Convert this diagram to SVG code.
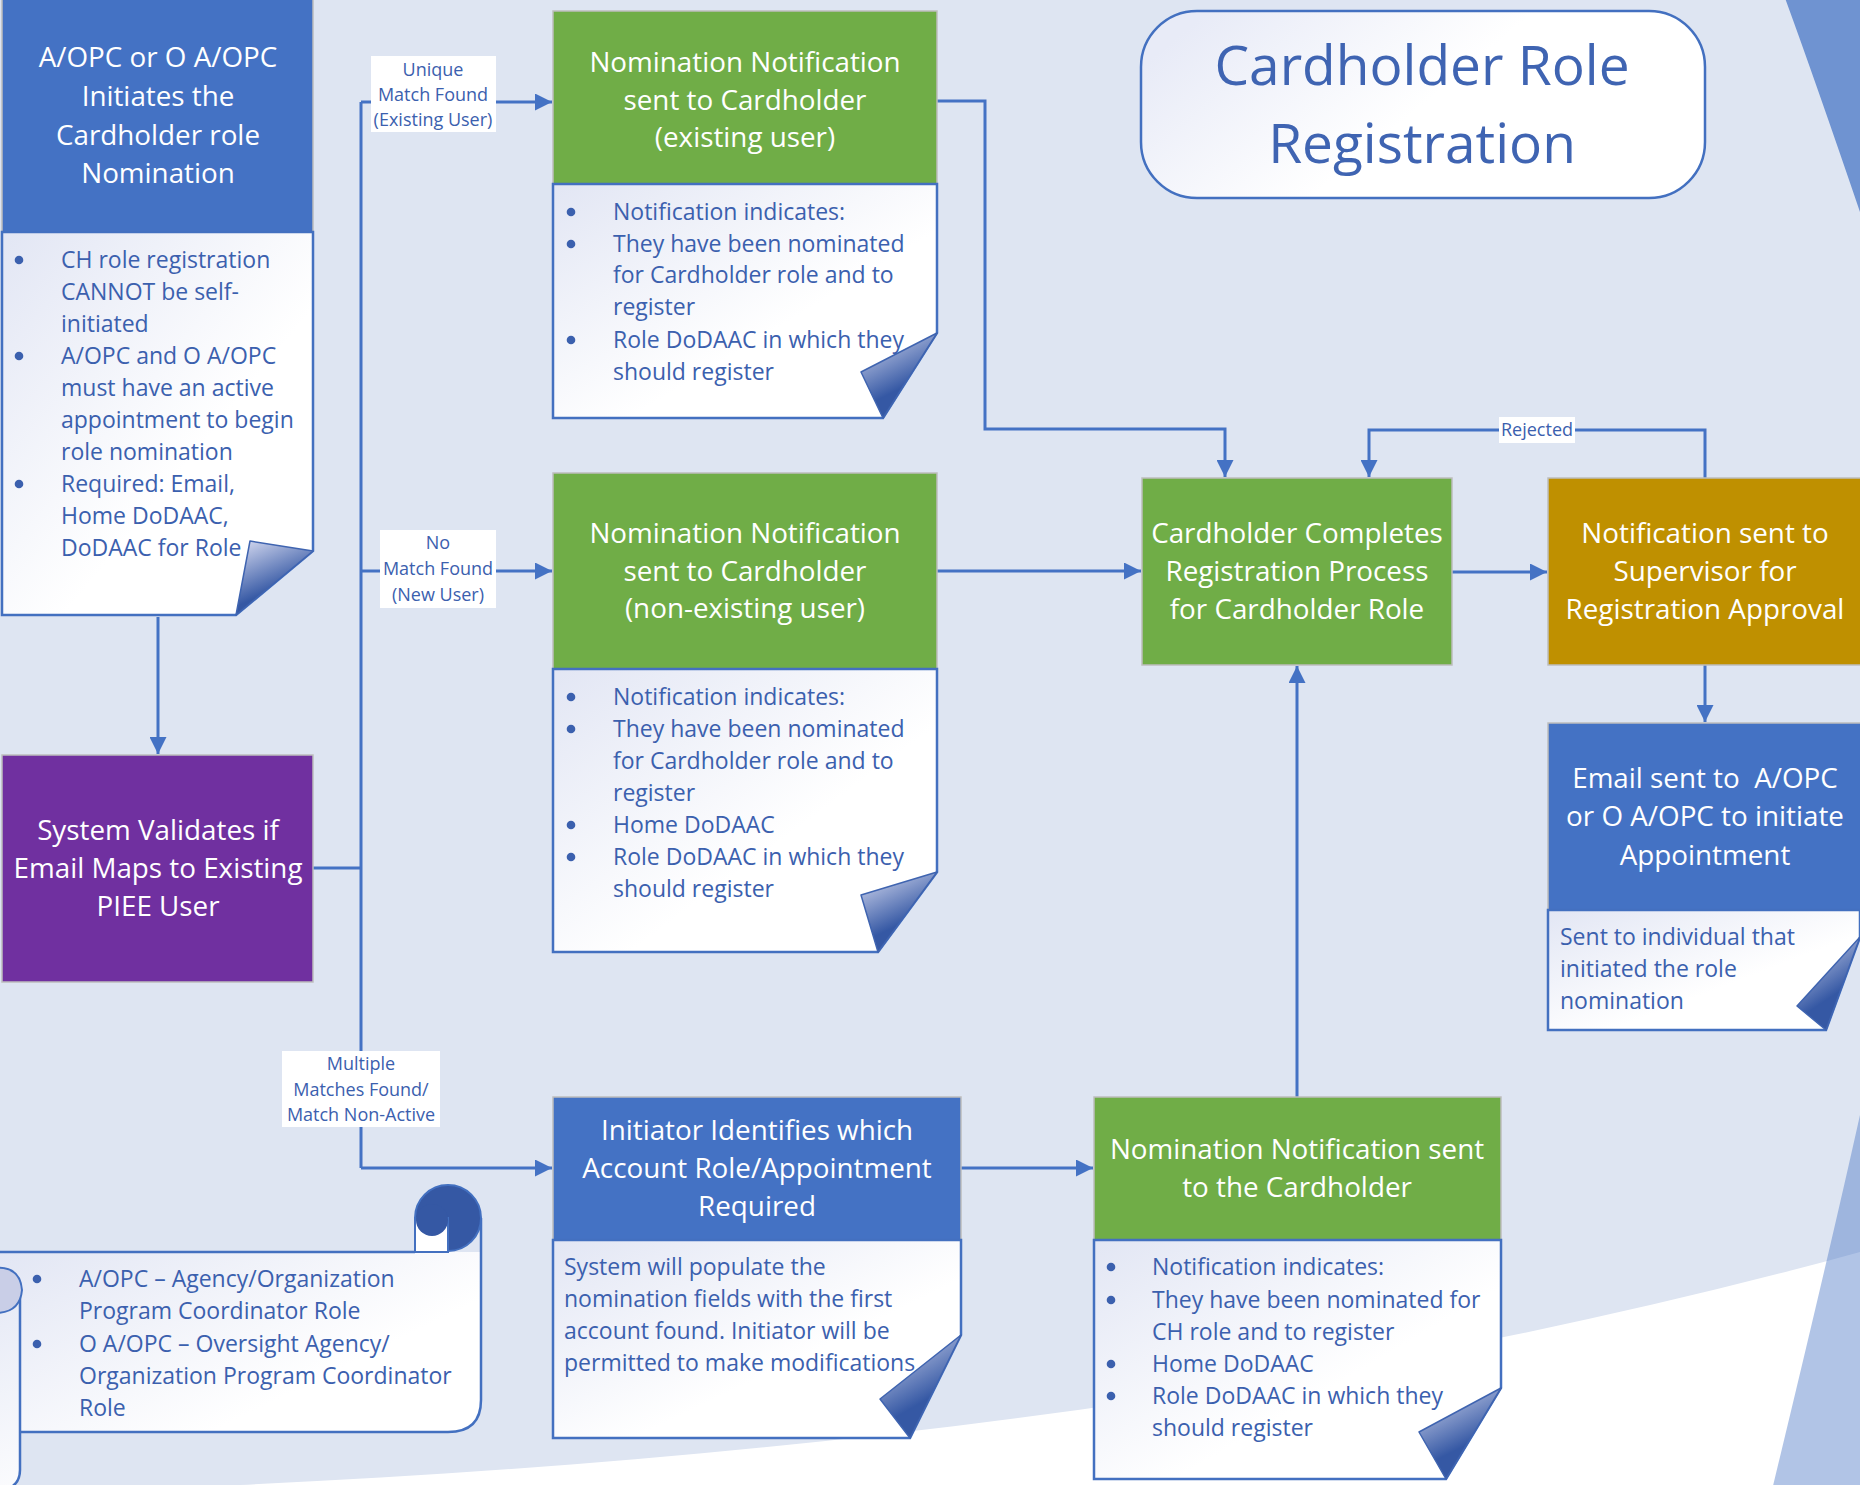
<svg xmlns="http://www.w3.org/2000/svg" width="1860" height="1485" viewBox="0 0 1860 1485">
<style>
  text { font-family: 'Open Sans', 'Noto Sans', 'DejaVu Sans', sans-serif; }
  .hdr { font-size: 27.8px; fill: #ffffff; text-anchor: middle; }
  .ttl { font-size: 55px; fill: #3F64B2; text-anchor: middle; }
  .doc-t { font-size: 23px; fill: #3B60AE; }
  .bul { fill: #3B60AE; }
  .lbl { font-size: 18px; fill: #3B60AE; text-anchor: middle; }
  .box { stroke: #BDBDBD; stroke-width: 1.5; }
  .blue { fill: #4472C4; }
  .green { fill: #70AD47; }
  .purple { fill: #7030A0; }
  .gold { fill: #BF9000; }
  .docbody { fill: url(#docGrad); stroke: #4370C0; stroke-width: 2.5; stroke-linejoin: miter; }
  .fold { fill: url(#foldGrad); stroke: #3F64B0; stroke-width: 1.5; stroke-linejoin: round; }
  .conn { fill: none; stroke: #4472C4; stroke-width: 3; }
  .lblbg { fill: #ffffff; }
</style>
<defs>
  <linearGradient id="docGrad" x1="0" y1="0" x2="1" y2="1">
    <stop offset="0" stop-color="#E2E6F4"/>
    <stop offset="0.6" stop-color="#FFFFFF"/>
  </linearGradient>
  <linearGradient id="titleGrad" x1="0" y1="0.3" x2="1" y2="0.7">
    <stop offset="0" stop-color="#E8EBF7"/>
    <stop offset="0.5" stop-color="#FFFFFF"/>
  </linearGradient>
  <linearGradient id="foldGrad" x1="0.1" y1="0" x2="0.55" y2="1">
    <stop offset="0" stop-color="#D3D8EF"/>
    <stop offset="0.7" stop-color="#3558A4"/>
  </linearGradient>
  <marker id="arr" markerWidth="17" markerHeight="17" refX="17" refY="8.5" orient="auto" markerUnits="userSpaceOnUse">
    <path d="M0,0 L17,8.5 L0,17 Z" fill="#4472C4"/>
  </marker>
</defs>

<!-- background -->
<rect x="0" y="0" width="1860" height="1485" fill="#DEE5F2"/>
<path d="M60 1492 C600 1475 1250 1420 1860 1252 L1860 1492 Z" fill="#FFFFFF"/>
<path d="M1860 1115 Q1830 1250 1772 1490 L1860 1490 Z" fill="#4472C4" fill-opacity="0.42"/>
<path d="M1785 -2 Q1815 80 1860 212 L1860 -2 Z" fill="#6F93D1"/>

<!-- title -->
<g id="title">
  <rect x="1141" y="11" width="564" height="187" rx="56" ry="56" fill="url(#titleGrad)" stroke="#4370C0" stroke-width="2.5"/>
  <text class="ttl" x="1422" y="85">Cardholder Role</text>
  <text class="ttl" x="1422" y="163">Registration</text>
</g>

<!-- connectors -->
<g id="connectors">
  <path class="conn" d="M158 617 V754" marker-end="url(#arr)"/>
  <path class="conn" d="M313 868 H361"/>
  <path class="conn" d="M361 102 V1168"/>
  <path class="conn" d="M361 102 H552" marker-end="url(#arr)"/>
  <path class="conn" d="M361 571 H552" marker-end="url(#arr)"/>
  <path class="conn" d="M361 1168 H552" marker-end="url(#arr)"/>
  <path class="conn" d="M937 101 H985 V429 H1225 V477" marker-end="url(#arr)"/>
  <path class="conn" d="M937 571 H1141" marker-end="url(#arr)"/>
  <path class="conn" d="M1452 572 H1547" marker-end="url(#arr)"/>
  <path class="conn" d="M1705 478 V430 H1369 V477" marker-end="url(#arr)"/>
  <path class="conn" d="M1705 665 V722" marker-end="url(#arr)"/>
  <path class="conn" d="M961 1168 H1093" marker-end="url(#arr)"/>
  <path class="conn" d="M1297 1097 V666" marker-end="url(#arr)"/>
  <g id="lbl-unique">
    <rect class="lblbg" x="371" y="56" width="125" height="76"/>
    <text class="lbl" x="433" y="76">Unique</text>
    <text class="lbl" x="433" y="101">Match Found</text>
    <text class="lbl" x="433" y="126">(Existing User)</text>
  </g>
  <g id="lbl-nomatch">
    <rect class="lblbg" x="380" y="530" width="116" height="78"/>
    <text class="lbl" x="438" y="549">No</text>
    <text class="lbl" x="438" y="575">Match Found</text>
    <text class="lbl" x="438" y="601">(New User)</text>
  </g>
  <g id="lbl-multiple">
    <rect class="lblbg" x="282" y="1051" width="158" height="76"/>
    <text class="lbl" x="361" y="1070">Multiple</text>
    <text class="lbl" x="361" y="1096">Matches Found/</text>
    <text class="lbl" x="361" y="1121">Match Non-Active</text>
  </g>
  <g id="lbl-rejected">
    <rect class="lblbg" x="1499" y="417" width="76" height="26"/>
    <text class="lbl" x="1537" y="436">Rejected</text>
  </g>
</g>

<!-- node: initiates -->
<g id="node-initiates">
  <rect class="box blue" x="2" y="-2" width="311" height="234"/>
  <text class="hdr" x="158" y="67">A/OPC or O A/OPC</text>
  <text class="hdr" x="158" y="106">Initiates the</text>
  <text class="hdr" x="158" y="145">Cardholder role</text>
  <text class="hdr" x="158" y="183">Nomination</text>
  <path class="docbody" d="M2 232 H313 V551 L236 615 H2 Z"/>
  <path class="fold" d="M250 541 L313 551 L236 615 Z"/>
  <circle class="bul" cx="19" cy="260" r="4.3"/>
  <circle class="bul" cx="19" cy="356" r="4.3"/>
  <circle class="bul" cx="19" cy="484" r="4.3"/>
  <text class="doc-t" x="61" y="268">CH role registration</text>
  <text class="doc-t" x="61" y="300">CANNOT be self-</text>
  <text class="doc-t" x="61" y="332">initiated</text>
  <text class="doc-t" x="61" y="364">A/OPC and O A/OPC</text>
  <text class="doc-t" x="61" y="396">must have an active</text>
  <text class="doc-t" x="61" y="428">appointment to begin</text>
  <text class="doc-t" x="61" y="460">role nomination</text>
  <text class="doc-t" x="61" y="492">Required: Email,</text>
  <text class="doc-t" x="61" y="524">Home DoDAAC,</text>
  <text class="doc-t" x="61" y="556">DoDAAC for Role</text>
</g>

<!-- node: system validates -->
<g id="node-validate">
  <rect class="box purple" x="2" y="755" width="311" height="227"/>
  <text class="hdr" x="158" y="840">System Validates if</text>
  <text class="hdr" x="158" y="878">Email Maps to Existing</text>
  <text class="hdr" x="158" y="916">PIEE User</text>
</g>

<!-- node: notification existing -->
<g id="node-notify-existing">
  <rect class="box green" x="553" y="11" width="384" height="173"/>
  <text class="hdr" x="745" y="72">Nomination Notification</text>
  <text class="hdr" x="745" y="110">sent to Cardholder</text>
  <text class="hdr" x="745" y="147">(existing user)</text>
  <path class="docbody" d="M553 184 H937 V333 L883 418 H553 Z"/>
  <path class="fold" d="M861 372 L937 333 L883 418 Z"/>
  <circle class="bul" cx="571" cy="212" r="4.3"/>
  <circle class="bul" cx="571" cy="244" r="4.3"/>
  <circle class="bul" cx="571" cy="340" r="4.3"/>
  <text class="doc-t" x="613" y="220">Notification indicates:</text>
  <text class="doc-t" x="613" y="252">They have been nominated</text>
  <text class="doc-t" x="613" y="283">for Cardholder role and to</text>
  <text class="doc-t" x="613" y="315">register</text>
  <text class="doc-t" x="613" y="348">Role DoDAAC in which they</text>
  <text class="doc-t" x="613" y="380">should register</text>
</g>

<!-- node: notification non-existing -->
<g id="node-notify-new">
  <rect class="box green" x="553" y="473" width="384" height="196"/>
  <text class="hdr" x="745" y="543">Nomination Notification</text>
  <text class="hdr" x="745" y="581">sent to Cardholder</text>
  <text class="hdr" x="745" y="618">(non-existing user)</text>
  <path class="docbody" d="M553 669 H937 V872 L878 952 H553 Z"/>
  <path class="fold" d="M861 895 L937 872 L878 952 Z"/>
  <circle class="bul" cx="571" cy="697" r="4.3"/>
  <circle class="bul" cx="571" cy="729" r="4.3"/>
  <circle class="bul" cx="571" cy="825" r="4.3"/>
  <circle class="bul" cx="571" cy="857" r="4.3"/>
  <text class="doc-t" x="613" y="705">Notification indicates:</text>
  <text class="doc-t" x="613" y="737">They have been nominated</text>
  <text class="doc-t" x="613" y="769">for Cardholder role and to</text>
  <text class="doc-t" x="613" y="801">register</text>
  <text class="doc-t" x="613" y="833">Home DoDAAC</text>
  <text class="doc-t" x="613" y="865">Role DoDAAC in which they</text>
  <text class="doc-t" x="613" y="897">should register</text>
</g>

<!-- node: cardholder completes -->
<g id="node-complete">
  <rect class="box green" x="1142" y="478" width="310" height="187"/>
  <text class="hdr" x="1297" y="543">Cardholder Completes</text>
  <text class="hdr" x="1297" y="581">Registration Process</text>
  <text class="hdr" x="1297" y="619">for Cardholder Role</text>
</g>

<!-- node: supervisor -->
<g id="node-supervisor">
  <rect class="box gold" x="1548" y="478" width="314" height="187"/>
  <text class="hdr" x="1705" y="543">Notification sent to</text>
  <text class="hdr" x="1705" y="581">Supervisor for</text>
  <text class="hdr" x="1705" y="619">Registration Approval</text>
</g>

<!-- node: email -->
<g id="node-email">
  <rect class="box blue" x="1548" y="723" width="314" height="187"/>
  <text class="hdr" x="1705" y="788" xml:space="preserve">Email sent to  A/OPC</text>
  <text class="hdr" x="1705" y="826">or O A/OPC to initiate</text>
  <text class="hdr" x="1705" y="865">Appointment</text>
  <path class="docbody" d="M1548 910 H1860 V937 L1826 1030 H1548 Z"/>
  <path class="fold" d="M1797 1006 L1860 937 L1826 1030 Z"/>
  <text class="doc-t" x="1560" y="945">Sent to individual that</text>
  <text class="doc-t" x="1560" y="977">initiated the role</text>
  <text class="doc-t" x="1560" y="1009">nomination</text>
</g>

<!-- node: initiator identifies -->
<g id="node-initiator">
  <rect class="box blue" x="553" y="1097" width="408" height="143"/>
  <text class="hdr" x="757" y="1140">Initiator Identifies which</text>
  <text class="hdr" x="757" y="1178">Account Role/Appointment</text>
  <text class="hdr" x="757" y="1216">Required</text>
  <path class="docbody" d="M553 1240 H961 V1335 L910 1438 H553 Z"/>
  <path class="fold" d="M880 1399 L961 1335 L910 1438 Z"/>
  <text class="doc-t" x="564" y="1275">System will populate the</text>
  <text class="doc-t" x="564" y="1307">nomination fields with the first</text>
  <text class="doc-t" x="564" y="1339">account found. Initiator will be</text>
  <text class="doc-t" x="564" y="1371">permitted to make modifications</text>
</g>

<!-- node: nomination sent to cardholder -->
<g id="node-nominate">
  <rect class="box green" x="1094" y="1097" width="407" height="143"/>
  <text class="hdr" x="1297" y="1159">Nomination Notification sent</text>
  <text class="hdr" x="1297" y="1197">to the Cardholder</text>
  <path class="docbody" d="M1094 1240 H1501 V1388 L1446 1479 H1094 Z"/>
  <path class="fold" d="M1419 1432 L1501 1388 L1446 1479 Z"/>
  <circle class="bul" cx="1111" cy="1267" r="4.3"/>
  <circle class="bul" cx="1111" cy="1300" r="4.3"/>
  <circle class="bul" cx="1111" cy="1364" r="4.3"/>
  <circle class="bul" cx="1111" cy="1396" r="4.3"/>
  <text class="doc-t" x="1152" y="1275">Notification indicates:</text>
  <text class="doc-t" x="1152" y="1308">They have been nominated for</text>
  <text class="doc-t" x="1152" y="1340">CH role and to register</text>
  <text class="doc-t" x="1152" y="1372">Home DoDAAC</text>
  <text class="doc-t" x="1152" y="1404">Role DoDAAC in which they</text>
  <text class="doc-t" x="1152" y="1436">should register</text>
</g>

<!-- node: legend scroll -->
<g id="node-legend">
  <path d="M-5 1252 H481 V1400 Q481 1432 448 1432 H20 V1470 Q20 1490 2 1490 H-5 Z" fill="url(#docGrad)"/>
  <path d="M-5 1252 H415" fill="none" stroke="#4370C0" stroke-width="2.5"/>
  <path d="M481 1218 V1400 Q481 1432 448 1432 H20" fill="none" stroke="#4370C0" stroke-width="2.5"/>
  <path d="M20 1290 V1470 Q20 1486 4 1490" fill="none" stroke="#4370C0" stroke-width="2.5"/>
  <circle cx="448" cy="1218" r="33" fill="#3558A4" stroke="#4370C0" stroke-width="2"/>
  <rect x="415" y="1218" width="33" height="34" fill="#FFFFFF" stroke="#4370C0" stroke-width="2"/>
  <circle cx="432" cy="1220" r="16" fill="#3558A4"/>
  <path d="M-5 1268 Q20 1266 22 1290 Q20 1313 -5 1313 Z" fill="#C9CEE7" stroke="#4370C0" stroke-width="2"/>
  <circle class="bul" cx="37" cy="1279" r="4.3"/>
  <circle class="bul" cx="37" cy="1344" r="4.3"/>
  <text class="doc-t" x="79" y="1287">A/OPC – Agency/Organization</text>
  <text class="doc-t" x="79" y="1319">Program Coordinator Role</text>
  <text class="doc-t" x="79" y="1352">O A/OPC – Oversight Agency/</text>
  <text class="doc-t" x="79" y="1384">Organization Program Coordinator</text>
  <text class="doc-t" x="79" y="1416">Role</text>
</g>
</svg>
